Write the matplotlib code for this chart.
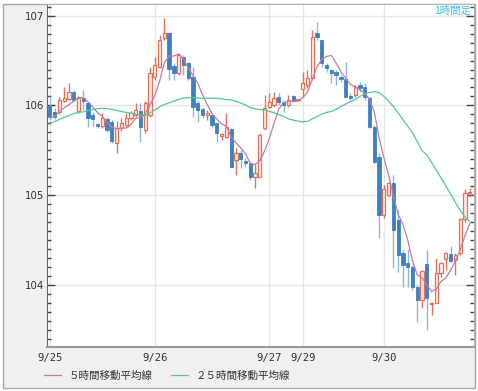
import numpy as np
import pandas as pd
import matplotlib
matplotlib.use("Agg")
import matplotlib.pyplot as plt
from matplotlib.patches import Rectangle
from matplotlib.ticker import MultipleLocator

# ---------------- data (USD/JPY hourly) ----------------
opens = [105.994, 105.927, 105.927, 106.044, 106.072, 106.150, 105.933, 106.083, 106.028, 105.894,
         105.788, 105.771, 105.849, 105.816, 105.582, 105.749, 105.783, 105.861, 105.894, 105.942,
         105.727, 105.894, 106.321, 106.432, 106.752, 106.811, 106.440, 106.358, 106.543, 106.473,
         106.321, 106.028, 105.961, 105.894, 105.894, 105.805, 105.660, 105.649, 105.738, 105.393,
         105.474, 105.385, 105.359, 105.203, 105.207, 105.749, 105.986, 106.005, 106.098, 106.042,
         106.005, 106.106, 106.055, 106.184, 106.228, 106.306, 106.807, 106.729, 106.451, 106.395,
         106.376, 106.321, 106.295, 106.106, 106.117, 106.228, 106.209, 106.083, 105.764, 105.429,
         104.780, 105.003, 105.136, 104.724, 104.360, 104.249, 104.204, 103.981, 103.833, 104.234,
         103.788, 103.803, 104.130, 104.286, 104.345, 104.279, 104.353, 104.732, 105.022]
highs = [106.106, 105.972, 106.094, 106.206, 106.250, 106.172, 106.106, 106.172, 106.039, 105.927,
         105.805, 105.916, 105.872, 105.838, 105.827, 105.861, 105.916, 105.938, 106.028, 106.028,
         106.050, 106.432, 106.543, 106.785, 106.974, 106.822, 106.470, 106.581, 106.562, 106.488,
         106.432, 106.061, 105.969, 105.950, 105.913, 105.805, 105.693, 105.916, 105.749, 105.526,
         105.504, 105.415, 105.374, 105.359, 105.693, 106.117, 106.136, 106.154, 106.136, 106.061,
         106.117, 106.117, 106.072, 106.376, 106.395, 106.841, 106.933, 106.729, 106.470, 106.395,
         106.395, 106.340, 106.488, 106.139, 106.228, 106.265, 106.247, 106.098, 105.783, 105.467,
         105.114, 105.151, 105.226, 104.836, 104.390, 104.398, 104.223, 104.000, 104.167, 104.390,
         103.810, 104.298, 104.260, 104.371, 104.435, 104.353, 104.743, 105.066, 105.077]
lows = [105.838, 105.849, 105.905, 106.039, 106.061, 106.050, 105.916, 105.950, 105.760, 105.771,
        105.749, 105.749, 105.705, 105.582, 105.471, 105.716, 105.760, 105.838, 105.872, 105.597,
        105.693, 105.872, 106.284, 106.418, 106.729, 106.284, 106.284, 106.340, 106.340, 106.284,
        105.875, 105.819, 105.857, 105.838, 105.764, 105.597, 105.615, 105.638, 105.315, 105.226,
        105.304, 105.315, 105.170, 105.081, 105.203, 105.727, 105.972, 105.983, 106.005, 105.931,
        105.983, 106.042, 106.050, 106.098, 106.191, 106.284, 106.729, 106.432, 106.376, 106.250,
        106.228, 106.265, 106.098, 106.061, 106.098, 106.154, 106.061, 105.746, 105.356, 104.524,
        104.747, 104.984, 104.190, 104.148, 103.981, 103.981, 103.944, 103.591, 103.741, 103.499,
        103.666, 103.796, 104.093, 104.167, 104.260, 104.112, 104.334, 104.705, 104.984]
closes = [105.872, 105.872, 106.061, 106.083, 106.150, 106.061, 106.083, 106.044, 105.861, 105.844,
          105.766, 105.861, 105.721, 105.599, 105.749, 105.805, 105.861, 105.916, 105.950, 105.764,
          106.028, 106.362, 106.451, 106.729, 106.807, 106.403, 106.362, 106.562, 106.451, 106.306,
          105.986, 105.950, 105.894, 105.916, 105.783, 105.693, 105.682, 105.760, 105.318, 105.471,
          105.404, 105.363, 105.207, 105.251, 105.671, 105.972, 106.042, 106.083, 106.042, 106.005,
          106.061, 106.053, 106.067, 106.250, 106.306, 106.766, 106.766, 106.473, 106.418, 106.362,
          106.340, 106.295, 106.098, 106.083, 106.209, 106.191, 106.098, 105.764, 105.374, 104.780,
          105.070, 105.136, 104.613, 104.334, 104.223, 104.197, 103.975, 103.833, 104.159, 103.852,
          103.800, 104.134, 104.249, 104.360, 104.271, 104.334, 104.735, 105.028, 105.040]
ma25 = [105.805, 105.818, 105.844, 105.868, 105.888, 105.908, 105.922, 105.928, 105.941, 105.952,
        105.963, 105.968, 105.965, 105.956, 105.944, 105.931, 105.922, 105.912, 105.902, 105.893,
        105.890, 105.915, 105.948, 105.983, 106.010, 106.029, 106.048, 106.068, 106.081, 106.085,
        106.087, 106.083, 106.080, 106.080, 106.080, 106.079, 106.072, 106.065, 106.059, 106.046,
        106.027, 106.005, 105.976, 105.961, 105.954, 105.950, 105.934, 105.917, 105.897, 105.876,
        105.850, 105.836, 105.824, 105.817, 105.821, 105.850, 105.874, 105.905, 105.921, 105.934,
        105.956, 105.987, 106.015, 106.042, 106.065, 106.100, 106.129, 106.143, 106.153, 106.143,
        106.102, 106.046, 105.991, 105.916, 105.843, 105.768, 105.696, 105.599, 105.498, 105.448,
        105.365, 105.279, 105.192, 105.103, 105.012, 104.919, 104.832, 104.759, 104.702]

date_labels = ["9/25", "9/26", "9/27", "9/29", "9/30"]
date_first_idx = [0, 22, 46, 53, 70]

ma5_label = "５時間移動平均線"
ma25_label = "２５時間移動平均線"
frame_label = "1時間足"

# ---------------- styling ----------------
RED = "#e2735a"
RED_FILL = "#fdece6"
BLUE = "#3f80c0"
BLUE_WICK = "#8cb7dc"
PINK = "#c9789f"
GREEN = "#52c892"
GRID = "#e6e6e6"

plt.rcParams["font.family"] = ["DejaVu Sans"]
CJK = ["Noto Sans CJK JP", "DejaVu Sans"]

W, H = 478, 391
fig = plt.figure(figsize=(W / 100, H / 100), dpi=100)
fig.patch.set_facecolor("white")
# outer gray frame (drawn beneath the axes)
frame = Rectangle((3 / W, 1 - 388 / H), 472 / W, 384 / H, transform=fig.transFigure,
                  facecolor="#f0f0f0", edgecolor="#a8a8a8", lw=1.0, zorder=-10)
fig.patches.append(frame)

ax = fig.add_axes([46.5 / W, 1 - 346.5 / H, (474 - 46.5) / W, (346.5 - 4) / H])
ax.set_zorder(5)
ax.set_facecolor("white")

o = np.array(opens); h = np.array(highs); l = np.array(lows); c = np.array(closes)
idx = np.arange(len(c))
up = c >= o
body_lo = np.minimum(o, c)
body_h = np.maximum(np.abs(c - o), 0.012)

ax.vlines(idx[up], l[up], h[up], color=RED, lw=1.0, zorder=2)
ax.vlines(idx[~up], l[~up], h[~up], color=BLUE_WICK, lw=1.0, zorder=2)
ax.bar(idx[up], body_h[up], bottom=body_lo[up], width=0.68, facecolor=RED_FILL,
       edgecolor=RED, lw=0.9, zorder=3)
ax.bar(idx[~up], body_h[~up], bottom=body_lo[~up], width=0.68, facecolor=BLUE,
       edgecolor=BLUE, lw=0.6, zorder=3)

ma5 = pd.Series(c).rolling(5, min_periods=1).mean().to_numpy()
ax.plot(idx, ma5, color=PINK, lw=0.9, zorder=4, label=ma5_label)
ax.plot(idx, ma25, color=GREEN, lw=0.9, zorder=4, label=ma25_label)

ax.set_xlim(-0.7, 88.9)
ax.set_ylim(103.313, 107.130)

# grid
ax.set_yticks([104, 105, 106, 107])
ax.yaxis.set_minor_locator(MultipleLocator(0.1))
ax.set_xticks(date_first_idx)
ax.set_xticklabels(date_labels)
ax.grid(True, which="major", color=GRID, lw=1.0, zorder=0)
ax.set_axisbelow(True)

ax.tick_params(axis="y", which="major", direction="in", length=6, width=1, color="#444",
               right=True, left=True, labelsize=7.4, labelcolor="#333", pad=1.5)
ax.tick_params(axis="y", which="minor", direction="in", length=3, width=1, color="#444",
               right=True, left=True)
ax.tick_params(axis="x", length=0, labelsize=7.6, labelcolor="#333", pad=5)
for t in ax.get_xticklabels():
    t.set_family("DejaVu Sans Mono")

for s in ["top", "right"]:
    ax.spines[s].set_color("#b0b0b0")
ax.spines["left"].set_color("#666")
ax.spines["bottom"].set_color("#999")
ax.spines["bottom"].set_linewidth(1.5)

fig.text(471 / W, 1 - 11 / H, frame_label, color="#3dbff0", fontsize=7.5, family=CJK,
         ha="right", va="center", zorder=10)

leg = fig.legend(loc="center left", bbox_to_anchor=(44 / W, 1 - 375.5 / H), ncol=2, frameon=False,
                 prop={"family": CJK, "size": 7.6}, handlelength=1.6, handletextpad=0.75,
                 columnspacing=1.7, borderpad=0, borderaxespad=0)
for t in leg.get_texts():
    t.set_color("#333")

fig.savefig("out.png", dpi=100)
